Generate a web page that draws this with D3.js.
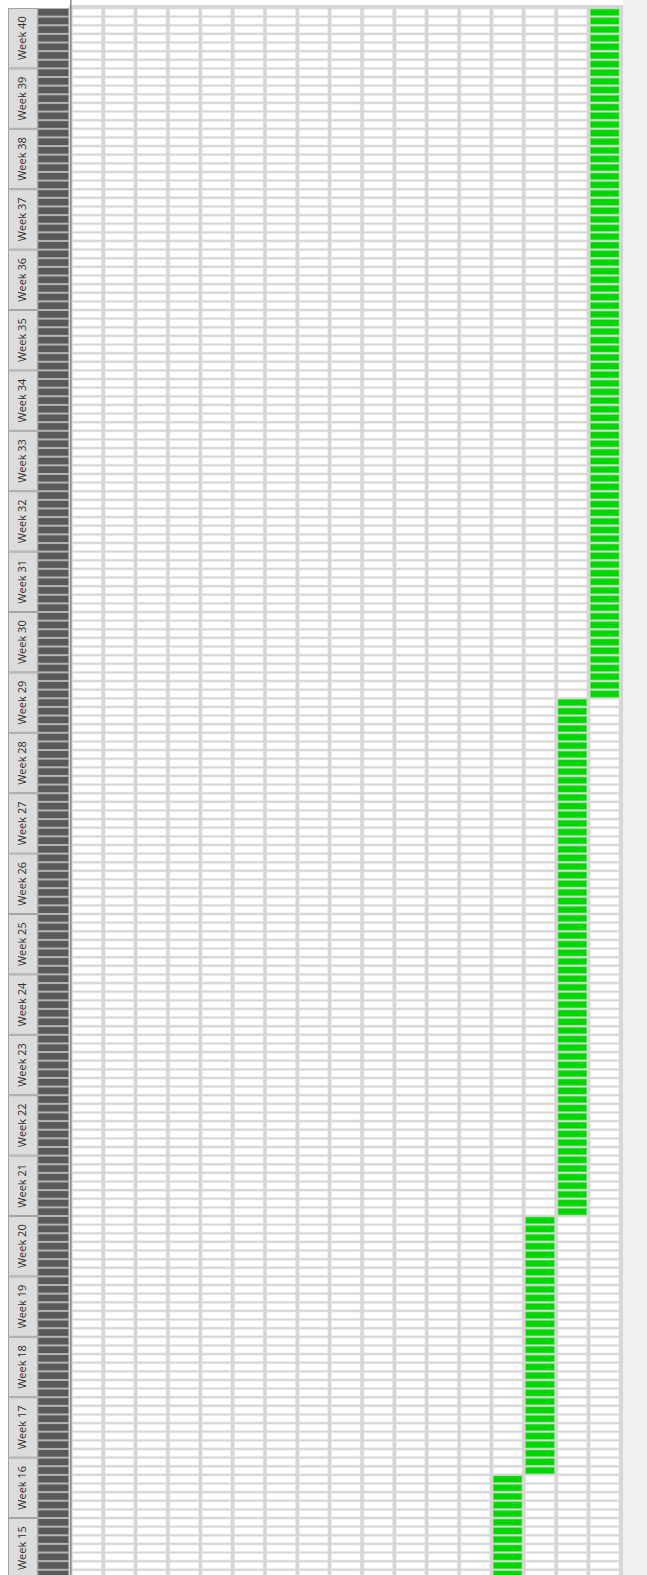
<!DOCTYPE html>
<html>
<head>
<meta charset="utf-8">
<script src="https://cdnjs.cloudflare.com/ajax/libs/d3/7.8.5/d3.min.js"></script>
<style>
  html, body { margin: 0; padding: 0; background: #ffffff; }
  svg { display: block; }
</style>
</head>
<body>
<div id="chart"></div>
<script>
// week labels, bottom (first) to top (last)
var weeks = d3.range(15, 41).map(function(w) { return "Week " + w; });
var daysPerWeek = 7;

// one column per task, no header shown
var taskColumns = d3.range(17);

// green bars: column, first day and last day (day 0 = first day of Week 15)
var barColumn = [13, 14, 15, 16];
var barStart  = [0, 12, 42, 102];
var barEnd    = [11, 41, 101, 181];

var width = 647, height = 1575;
// NOTE: "top" is taken by window.top, so use gridTop
var gridTop = 8;
var weekHeight = 60.4;
var totalDays = weeks.length * daysPerWeek;

var svg = d3.select("#chart").append("svg")
	.attr("width", width)
	.attr("height", height);

// y: day index, day 0 at the bottom
var y = d3.scaleLinear()
	.domain([0, totalDays])
	.range([gridTop + weeks.length * weekHeight, gridTop]);

var weekScale = d3.scaleBand()
	.domain(weeks.slice().reverse())
	.range([gridTop, gridTop + weeks.length * weekHeight]);

var x = d3.scaleBand()
	.domain(taskColumns)
	.range([70.9, 70.9 + taskColumns.length * 32.35])
	.paddingInner(0.12)
	.paddingOuter(0.06);

var rowPitch = y(0) - y(1);
var cellH = rowPitch - 2.3;
var days = d3.range(totalDays);

// right side panel
svg.append("rect")
	.attr("x", 623).attr("y", 0)
	.attr("width", width - 623).attr("height", height)
	.attr("fill", "#f0f0f0");

// grid background
svg.append("rect")
	.attr("x", 69).attr("y", 5)
	.attr("width", 623 - 69).attr("height", height - 5)
	.attr("fill", "#d6d6d6");

// white cells
var cells = svg.append("g").attr("class", "cells");
taskColumns.forEach(function(c) {
	cells.selectAll("rect.c" + c)
		.data(days)
		.enter().append("rect")
		.attr("class", "c" + c)
		.attr("x", x(c))
		.attr("y", function(d) { return y(d + 1) + 1.15; })
		.attr("width", x.bandwidth())
		.attr("height", cellH)
		.attr("fill", "#ffffff")
		.attr("stroke", "#ececec")
		.attr("stroke-width", 0.6);
});

// green task bars, one cell per day
var bars = svg.append("g").attr("class", "bars");
barColumn.forEach(function(c, i) {
	bars.selectAll("rect.b" + i)
		.data(d3.range(barStart[i], barEnd[i] + 1))
		.enter().append("rect")
		.attr("class", "b" + i)
		.attr("x", x(c))
		.attr("y", function(d) { return y(d + 1) + 1.15; })
		.attr("width", x.bandwidth())
		.attr("height", cellH)
		.attr("fill", "#00d600")
		.attr("stroke", "#4ed84e")
		.attr("stroke-width", 0.6);
});

// separator line
svg.append("rect")
	.attr("x", 70).attr("y", 0)
	.attr("width", 1.6).attr("height", height)
	.attr("fill", "#8e8e8e");

// dark day column
svg.append("rect")
	.attr("x", 37.6).attr("y", gridTop)
	.attr("width", 31.4).attr("height", height - gridTop)
	.attr("fill", "#b4b4b4");

svg.append("g").attr("class", "day-col")
	.selectAll("rect")
	.data(days)
	.enter().append("rect")
	.attr("x", 38.3)
	.attr("y", function(d) { return y(d + 1) + 1; })
	.attr("width", 30)
	.attr("height", rowPitch - 2)
	.attr("fill", "#595959");

// week label boxes
var weekG = svg.append("g").attr("class", "weeks")
	.selectAll("g")
	.data(weeks)
	.enter().append("g")
	.attr("transform", function(d) { return "translate(8," + weekScale(d) + ")"; });

weekG.append("rect")
	.attr("x", 0.5).attr("y", 0.5)
	.attr("width", 29).attr("height", weekScale.bandwidth() - 1)
	.attr("fill", "#dcdcdc")
	.attr("stroke", "#a3a3a3")
	.attr("stroke-width", 1);

weekG.append("text")
	.attr("transform", "translate(18," + (weekScale.bandwidth() / 2) + ") rotate(-90)")
	.attr("text-anchor", "middle")
	.attr("font-family", "'Open Sans', sans-serif")
	.attr("font-size", 11)
	.attr("fill", "#2b2b2b")
	.text(function(d) { return d; });
</script>
</body>
</html>
